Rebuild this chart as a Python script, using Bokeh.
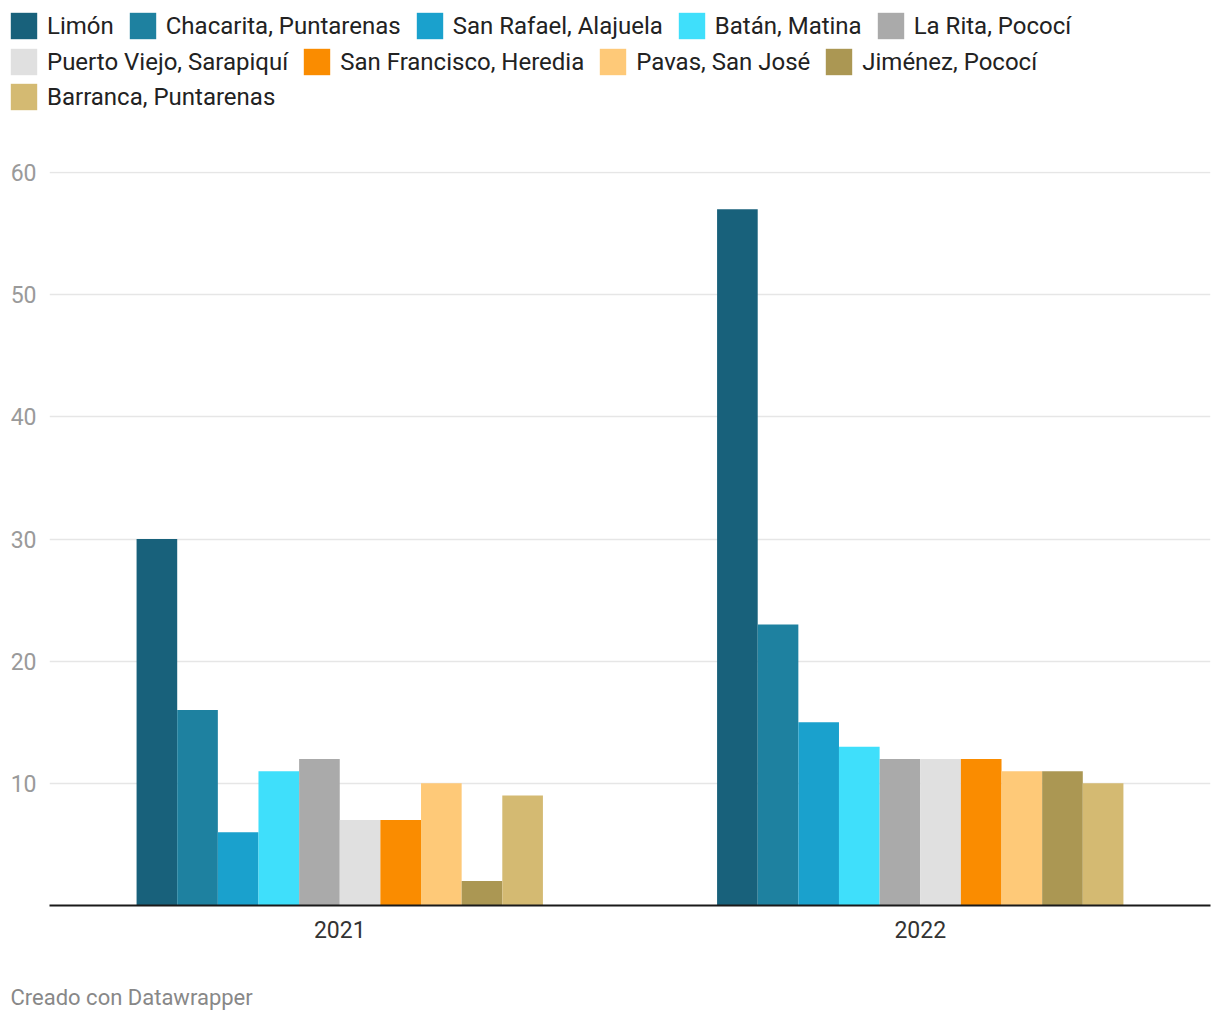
from bokeh.plotting import figure
from bokeh.layouts import column, row
from bokeh.models import FactorRange, Range1d, Legend, LegendItem, Label, ColumnDataSource, FixedTicker
from bokeh.transform import dodge
from bokeh.embed import file_html
from bokeh.resources import INLINE

years = ["2021", "2022"]
series = ["Limón", "Chacarita, Puntarenas", "San Rafael, Alajuela", "Batán, Matina",
          "La Rita, Pococí", "Puerto Viejo, Sarapiquí", "San Francisco, Heredia",
          "Pavas, San José", "Jiménez, Pococí", "Barranca, Puntarenas"]
values_2021 = [30, 16, 6, 11, 12, 7, 7, 10, 2, 9]
values_2022 = [57, 23, 15, 13, 12, 12, 12, 11, 11, 10]
colors = ["#18617b", "#1e81a0", "#1aa1cd", "#3fdffb", "#aaaaaa",
          "#e0e0e0", "#fa8c00", "#fec978", "#ab9753", "#d4ba72"]
y_ticks = [10, 20, 30, 40, 50, 60]
legend_rows = [[0, 1, 2, 3, 4], [5, 6, 7, 8], [9]]
footer_text = "Creado con Datawrapper"

FONT = "Roboto"
W = 1220


def blank_fig(h):
    f = figure(width=W, height=h, output_backend="svg", toolbar_location=None,
               x_axis_location=None, y_axis_location=None,
               min_border=0, outline_line_color=None,
               x_range=Range1d(0, 1), y_range=Range1d(0, 1))
    f.grid.visible = False
    return f


# ---- legend strip ----
leg = blank_fig(120)
leg_renderers = []
for i, name in enumerate(series):
    # zero-height, off-range dummy bar: only its style is used by the legend
    src = ColumnDataSource(dict(x=[-5.0], top=[0.0]))
    leg_renderers.append(leg.vbar(x="x", top="top", bottom=0, width=0.1, source=src,
                                  fill_color=colors[i], line_color=None))
row_bottoms = [78, 42, 7]
for rw, vy in zip(legend_rows, row_bottoms):
    items = [LegendItem(label=series[i], renderers=[leg_renderers[i]]) for i in rw]
    lg = Legend(items=items, orientation="horizontal", location=(7, vy),
                glyph_width=33, glyph_height=33, label_standoff=7, spacing=12,
                label_text_font=FONT, label_text_font_size="24px", label_text_color="#222222",
                padding=0, margin=0, border_line_color=None, background_fill_alpha=0,
                label_height=33)
    leg.add_layout(lg, "center")

# ---- main chart ----
p = figure(x_range=FactorRange(*years), y_range=Range1d(0, 60.1),
           width=W, height=855, output_backend="svg", toolbar_location=None,
           min_border_left=49, min_border_right=10, min_border_top=51, min_border_bottom=70,
           outline_line_color=None)

bar_w = 0.07
for i, name in enumerate(series):
    src = ColumnDataSource(dict(x=years, top=[values_2021[i], values_2022[i]]))
    p.vbar(x=dodge("x", (i - 4.5) * bar_w, range=p.x_range), top="top", width=bar_w,
           source=src, fill_color=colors[i], line_color=None)

p.yaxis.ticker = FixedTicker(ticks=y_ticks)
p.yaxis.axis_line_color = None
p.yaxis.major_tick_line_color = None
p.yaxis.minor_tick_line_color = None
p.yaxis.major_label_text_font = FONT
p.yaxis.major_label_text_font_size = "23px"
p.yaxis.major_label_text_color = "#9a9a9a"
p.yaxis.major_label_standoff = 7

p.xaxis.axis_line_color = "#1a1a1a"
p.xaxis.axis_line_width = 2
p.xaxis.major_tick_line_color = None
p.xaxis.minor_tick_line_color = None
p.xaxis.major_label_text_font = FONT
p.xaxis.major_label_text_font_size = "23px"
p.xaxis.major_label_text_color = "#333333"
p.xaxis.major_label_standoff = 9

p.xgrid.grid_line_color = None
p.ygrid.grid_line_color = "#e6e6e6"
p.ygrid.grid_line_width = 1.5

# ---- footer strip ----
foot = blank_fig(45)
foot.add_layout(Label(x=10, y=23, x_units="screen", y_units="screen", text=footer_text,
                      text_font=FONT, text_font_size="22px", text_color="#888888",
                      text_baseline="middle", text_align="left"))

layout = column(row(leg), row(p), row(foot), spacing=0)
open("out.html", "w").write(file_html(layout, INLINE))
